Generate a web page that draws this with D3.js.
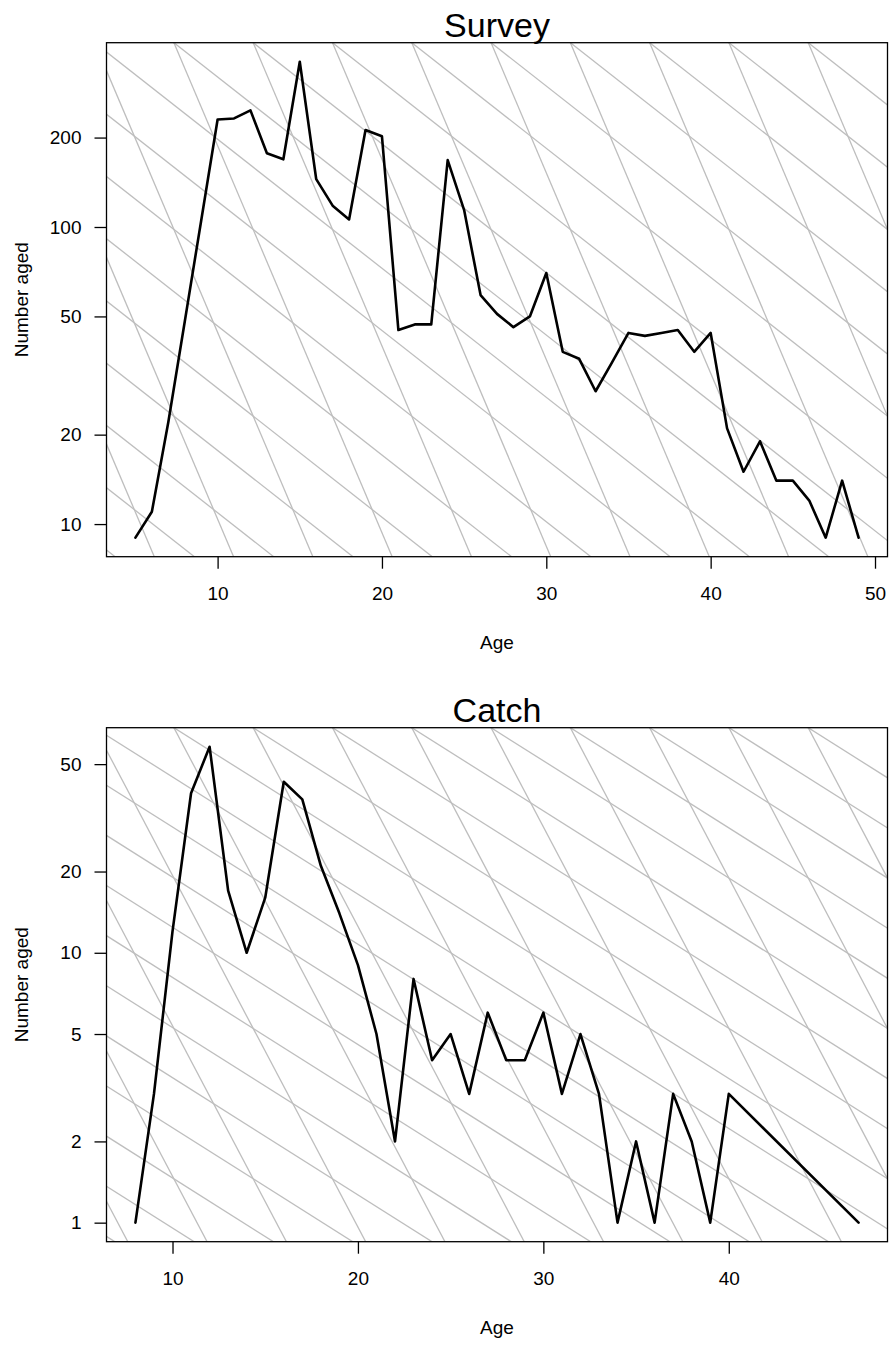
<!DOCTYPE html>
<html>
<head>
<meta charset="utf-8">
<script src="https://cdn.jsdelivr.net/npm/d3@7"></script>
<style>
  html, body { margin: 0; padding: 0; background: #fff; }
  svg { display: block; }
  text { font-family: "Liberation Sans", Arial, Helvetica, sans-serif; fill: #000; }
</style>
</head>
<body>
<svg id="chart" width="889" height="1345"></svg>
<script>
// ---------------- data ----------------
const surveyAges = [5,6,7,8,9,10,11,12,13,14,15,16,17,18,19,20,21,22,23,24,25,26,27,28,29,30,31,32,33,34,35,36,37,38,39,40,41,42,43,44,45,46,47,48,49];
const surveyCounts = [9,11,22,48,105,230,232,247,177,169,360,145,118,106,212,202,45,47,47,168,114,59,51,46,50,70,38,36,28,35,44,43,44,45,38,44,21,15,19,14,14,12,9,14,9];

const catchAges = [8,9,10,11,12,13,14,15,16,17,18,19,20,21,22,23,24,25,26,27,28,29,30,31,32,33,34,35,36,37,38,39,40,47];
const catchCounts = [1,3,12,39,58,17,10,16,43,37,21,14,9,5,2,8,4,5,3,6,4,4,6,3,5,3,1,2,1,3,2,1,3,1];

const surveyYTicks = [10, 20, 50, 100, 200];
const catchYTicks = [1, 2, 5, 10, 20, 50];
const surveyXTicks = [10, 20, 30, 40, 50];
const catchXTicks = [10, 20, 30, 40];

const mortalityRates = [0.1, 0.3];   // slopes of the reference lines (instantaneous Z)

const panels = [
  { title: "Survey", ages: surveyAges, counts: surveyCounts, yTicks: surveyYTicks, xTicks: surveyXTicks, top: 42.7, bottom: 556.7 },
  { title: "Catch",  ages: catchAges,  counts: catchCounts,  yTicks: catchYTicks,  xTicks: catchXTicks,  top: 727.7, bottom: 1241.7 }
];

// ---------------- drawing ----------------
const svg = d3.select("#chart");
const left = 106.5, right = 887.5;
const FS = 19;

panels.forEach((p, i) => {
  const g = svg.append("g");

  // R-style 4% extension
  const xmin = d3.min(p.ages), xmax = d3.max(p.ages);
  const xr = xmax - xmin;
  const xDom = [xmin - 0.04 * xr, xmax + 0.04 * xr];
  const lmin = Math.log10(d3.min(p.counts)), lmax = Math.log10(d3.max(p.counts));
  const lr = lmax - lmin;
  const yDom = [Math.pow(10, lmin - 0.04 * lr), Math.pow(10, lmax + 0.04 * lr)];

  const x = d3.scaleLinear().domain(xDom).range([left, right]);
  const y = d3.scaleLog().domain(yDom).range([p.bottom, p.top]);

  // clip
  const clipId = "clip" + i;
  svg.append("clipPath").attr("id", clipId)
    .append("rect").attr("x", left).attr("y", p.top)
    .attr("width", right - left).attr("height", p.bottom - p.top);

  // reference lines: pass through points along the top edge, anchored at top-right
  const spacing = (xDom[1] - xDom[0]) / 9.85;
  const yTop = yDom[1];
  const refG = g.append("g").attr("clip-path", `url(#${clipId})`);
  for (let k = 0; k <= 40; k++) {
    const a = xDom[1] - k * spacing;
    mortalityRates.forEach(Z => {
      const a0 = xDom[0] - 5, a1 = xDom[1] + 5;
      const f = t => yTop * Math.exp(-Z * (t - a));
      refG.append("line")
        .attr("x1", x(a0)).attr("y1", y(f(a0)))
        .attr("x2", x(a1)).attr("y2", y(f(a1)))
        .attr("stroke", "#bebebe").attr("stroke-width", 1.3);
    });
  }

  // data line
  const line = d3.line().x((d, j) => x(p.ages[j])).y(d => y(d));
  g.append("path").datum(p.counts)
    .attr("d", line)
    .attr("fill", "none").attr("stroke", "#000")
    .attr("stroke-width", 2.6)
    .attr("stroke-linejoin", "round").attr("stroke-linecap", "round");

  // box
  g.append("rect").attr("x", left).attr("y", p.top)
    .attr("width", right - left).attr("height", p.bottom - p.top)
    .attr("fill", "none").attr("stroke", "#000").attr("stroke-width", 1.3);

  // y axis
  const yAxis = d3.axisLeft(y).tickValues(p.yTicks).tickFormat(d3.format("d"))
    .tickSize(12).tickPadding(13);
  const ya = g.append("g").attr("transform", `translate(${left},0)`).call(yAxis);
  ya.select(".domain").remove();
  ya.selectAll("line").attr("stroke", "#000").attr("stroke-width", 1.3);
  ya.selectAll("text").attr("font-size", FS).attr("font-family", "Liberation Sans, Arial, sans-serif");

  // x axis
  const xAxis = d3.axisBottom(x).tickValues(p.xTicks).tickFormat(d3.format("d"))
    .tickSize(12).tickPadding(18);
  const xa = g.append("g").attr("transform", `translate(0,${p.bottom})`).call(xAxis);
  xa.select(".domain").remove();
  xa.selectAll("line").attr("stroke", "#000").attr("stroke-width", 1.3);
  xa.selectAll("text").attr("font-size", FS).attr("font-family", "Liberation Sans, Arial, sans-serif");

  // title
  g.append("text").attr("x", (left + right) / 2).attr("y", p.top - 5.5)
    .attr("text-anchor", "middle").attr("font-size", 34).text(p.title);

  // x label
  g.append("text").attr("x", (left + right) / 2).attr("y", p.bottom + 92)
    .attr("text-anchor", "middle").attr("font-size", FS).text("Age");

  // y label
  const cy = (p.top + p.bottom) / 2;
  g.append("text").attr("transform", `translate(28,${cy}) rotate(-90)`)
    .attr("text-anchor", "middle").attr("font-size", FS).text("Number aged");
});
</script>
</body>
</html>
